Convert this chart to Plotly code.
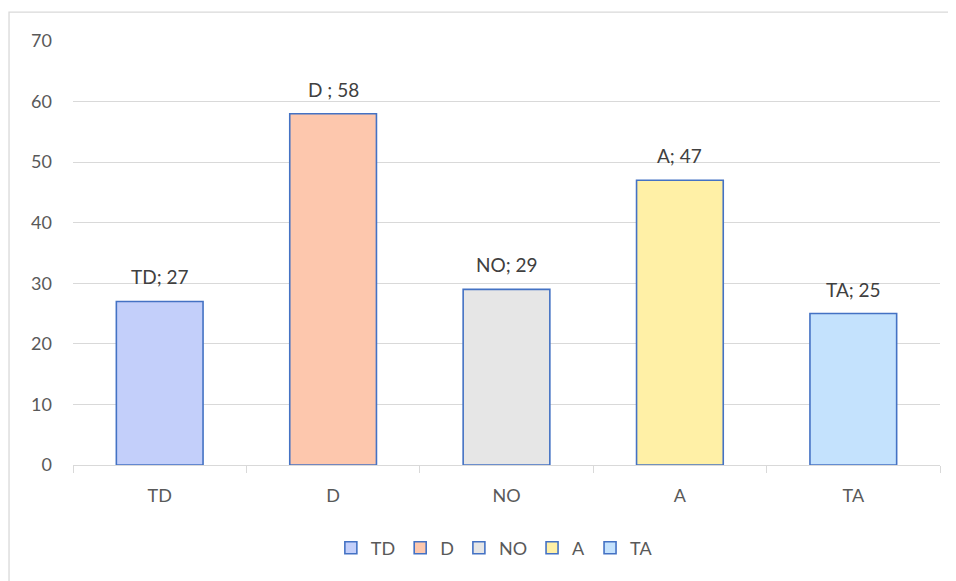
import plotly.graph_objects as go

categories = ["TD", "D", "NO", "A", "TA"]
values = [27, 58, 29, 47, 25]
labels = ["TD; 27", "D ; 58", "NO; 29", "A; 47", "TA; 25"]
fill_colors = ["#c3cffa", "#fdc7ad", "#e6e6e6", "#fff0a6", "#c4e2fd"]
y_ticks = [0, 10, 20, 30, 40, 50, 60, 70]

FONT = "Lato, 'Liberation Sans', sans-serif"

fig = go.Figure()
for cat, val, col in zip(categories, values, fill_colors):
    fig.add_trace(go.Bar(
        x=[cat], y=[val], name=cat, width=0.5,
        marker=dict(color=col, line=dict(color="#4472c4", width=1.6)),
        hoverinfo="x+y",
    ))

for cat, val, lab in zip(categories, values, labels):
    fig.add_annotation(x=cat, y=val, text=lab, showarrow=False,
                       yanchor="bottom", yshift=11,
                       font=dict(family=FONT, size=19, color="#404040"))

fig.add_shape(type="rect", xref="paper", yref="paper",
              x0=-0.0738, x1=1.03, y0=-0.30, y1=1.068,
              line=dict(color="#d9d9d9", width=1.3), fillcolor="rgba(0,0,0,0)",
              layer="below")

fig.update_layout(
    width=948, height=573,
    margin=dict(l=65, r=16, t=33, b=116),
    paper_bgcolor="white", plot_bgcolor="white",
    barmode="overlay",
    font=dict(family=FONT, size=18, color="#595959"),
    showlegend=True,
    legend=dict(orientation="h", x=0.486, xanchor="center", y=-0.196, yanchor="middle",
                font=dict(family=FONT, size=18, color="#595959"),
                itemwidth=30, tracegroupgap=0, itemclick=False),
    xaxis=dict(categoryorder="array", categoryarray=categories,
               showline=True, linecolor="#d9d9d9", linewidth=1.3,
               ticks="outside", tickcolor="#d9d9d9", ticklen=7, tickwidth=1.3,
               tickson="boundaries", showgrid=False, ticklabelstandoff=14,
               tickfont=dict(family=FONT, size=18, color="#595959")),
    yaxis=dict(range=[0, 70], tickvals=y_ticks, showgrid=True,
               gridcolor="#d9d9d9", gridwidth=1.3, zeroline=False,
               showline=False, ticks="", ticklabelstandoff=20,
               tickfont=dict(family=FONT, size=18, color="#595959")),
)

fig.write_html("out.html")
